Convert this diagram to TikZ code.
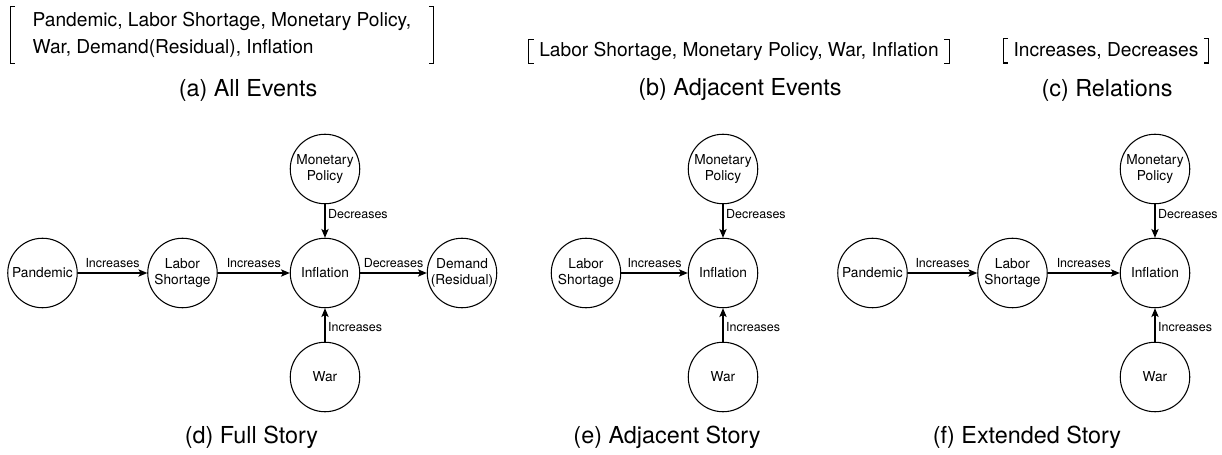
\documentclass[tikz,border=0pt]{standalone}
\usepackage{fontspec}
\setmainfont{TeX Gyre Heros}
\usetikzlibrary{arrows.meta,positioning}

\begin{document}
\begin{tikzpicture}[>={Stealth[length=5pt,width=4.2pt,inset=1.2pt]}, line width=0.6pt,
  ev/.style={draw, circle, minimum size=1.39cm, inner sep=0pt, align=center, font=\fontsize{7.8}{9.4}\selectfont},
  lbl/.style={font=\fontsize{7.1}{8.5}\selectfont, inner sep=1.5pt},
  lst/.style={align=left, inner ysep=0pt, font=\fontsize{10.9}{15.3}\selectfont},
  subcap/.style={font=\fontsize{13.3}{16}\selectfont}]
  \useasboundingbox (0,0) rectangle (24.44,-9.10);

  % lists of events and relations
  \node[lst, minimum height=1.12cm, inner xsep=0.44cm] (la) at (4.44,-0.70) {Pandemic, Labor Shortage, Monetary Policy,\\ War, Demand(Residual), Inflation};
  \node[lst, minimum height=0.46cm, inner xsep=0.2cm]  (lb) at (14.78,-1.03) {Labor Shortage, Monetary Policy, War, Inflation};
  \node[lst, minimum height=0.46cm, inner xsep=0.2cm]  (lc) at (22.12,-1.02) {Increases, Decreases};
  \foreach \l in {la,lb,lc} {
    \draw ([xshift=0.1cm]\l.north west) -- (\l.north west) -- (\l.south west) -- ++(0.1,0);
    \draw ([xshift=-0.1cm]\l.north east) -- (\l.north east) -- (\l.south east) -- ++(-0.1,0);
  }
  \node[subcap] (capa) at (4.96,-1.80)  {(a) All Events};
  \node[subcap] (capb) at (14.80,-1.80) {(b) Adjacent Events};
  \node[subcap] (capc) at (22.14,-1.80) {(c) Relations};

  % full story
  \node[ev] (dpan) at (0.85,-5.46) {Pandemic};
  \node[ev] (dlab) at (3.65,-5.46) {Labor\\ Shortage};
  \node[ev] (dinf) at (6.50,-5.46) {Inflation};
  \node[ev] (ddem) at (9.24,-5.46) {Demand\\ (Residual)};
  \node[ev] (dmon) at (6.50,-3.38) {Monetary\\ Policy};
  \node[ev] (dwar) at (6.50,-7.54) {War};
  \draw[->] (dpan) -- node[lbl, above=1.5pt] {Increases} (dlab);
  \draw[->] (dlab) -- node[lbl, above=1.5pt] {Increases} (dinf);
  \draw[->] (dinf) -- node[lbl, above=1.5pt] {Decreases} (ddem);
  \draw[->] (dmon) -- node[lbl, right, pos=0.3] {Decreases} (dinf);
  \draw[->] (dwar) -- node[lbl, right, pos=0.45] {Increases} (dinf);
  \node[subcap] (capd) at (5.03,-8.74) {(d) Full Story};

  % adjacent story
  \node[ev] (elab) at (11.72,-5.46) {Labor\\ Shortage};
  \node[ev] (einf) at (14.46,-5.46) {Inflation};
  \node[ev] (emon) at (14.46,-3.38) {Monetary\\ Policy};
  \node[ev] (ewar) at (14.46,-7.54) {War};
  \draw[->] (elab) -- node[lbl, above=1.5pt] {Increases} (einf);
  \draw[->] (emon) -- node[lbl, right, pos=0.3] {Decreases} (einf);
  \draw[->] (ewar) -- node[lbl, right, pos=0.45] {Increases} (einf);
  \node[subcap] (cape) at (13.34,-8.74) {(e) Adjacent Story};

  % extended story
  \node[ev] (fpan) at (17.45,-5.46) {Pandemic};
  \node[ev] (flab) at (20.25,-5.46) {Labor\\ Shortage};
  \node[ev] (finf) at (23.10,-5.46) {Inflation};
  \node[ev] (fmon) at (23.10,-3.38) {Monetary\\ Policy};
  \node[ev] (fwar) at (23.10,-7.54) {War};
  \draw[->] (fpan) -- node[lbl, above=1.5pt] {Increases} (flab);
  \draw[->] (flab) -- node[lbl, above=1.5pt] {Increases} (finf);
  \draw[->] (fmon) -- node[lbl, right, pos=0.3] {Decreases} (finf);
  \draw[->] (fwar) -- node[lbl, right, pos=0.45] {Increases} (finf);
  \node[subcap] (capf) at (20.54,-8.74) {(f) Extended Story};
\end{tikzpicture}
\end{document}
